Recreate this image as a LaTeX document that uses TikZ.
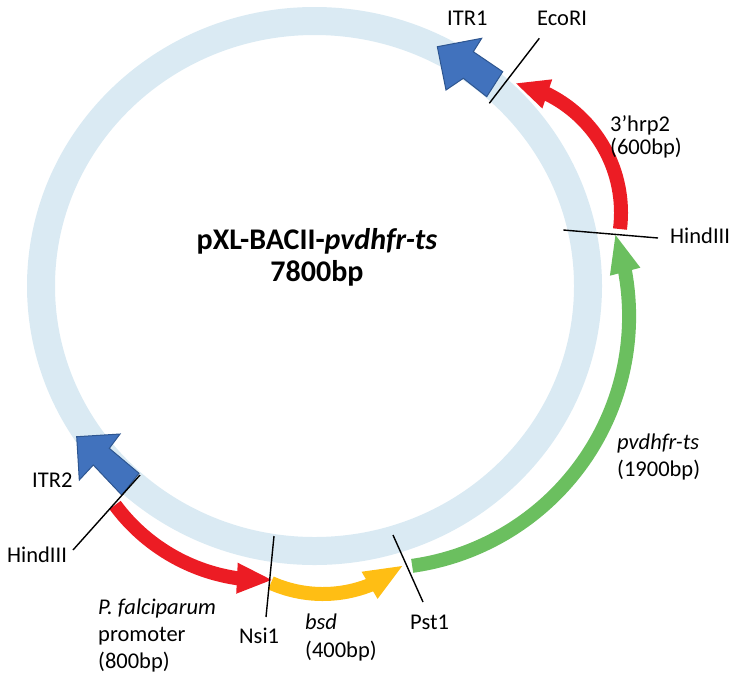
\documentclass[tikz,border=0pt]{standalone}
\usepackage{fontspec}
\setmainfont{Carlito}
\usetikzlibrary{arrows.meta,bending}
\definecolor{ringblue}{HTML}{DAEAF3}
\definecolor{itrblue}{HTML}{4172BD}
\definecolor{itredge}{HTML}{2E5690}
\definecolor{hrpred}{HTML}{EC1C24}
\definecolor{genegreen}{HTML}{6BBF5F}
\definecolor{bsdyellow}{HTML}{FFBE14}
\begin{document}
\begin{tikzpicture}[x=1pt,y=-1pt,
  lbl/.style={font=\fontsize{22.5}{27}\selectfont, inner sep=0pt, anchor=base west},
  titlefont/.style={font=\fontsize{30}{34}\selectfont\bfseries, inner sep=0pt, anchor=base},
  siteline/.style={line width=1.4pt, black},
  feat/.style={line width=14pt},
  headtip/.style={-{Triangle[length=#1,width=28pt]}},
  itr/.style={fill=itrblue, draw=itredge, line width=1pt, line join=miter}]
\useasboundingbox (0,0) rectangle (738,681);
% backbone ring
\draw[ringblue, line width=28pt] (314.5,286) ellipse [x radius=273.5, y radius=265];
% arc centres
\coordinate (gc) at (377.1,316.3);
\coordinate (rc) at (488.7,212.7);
\coordinate (pc) at (264.2,394.7);
\coordinate (yc) at (322.9,466.2);
% ITR arrows
\path[itr] (437.3,46.7) -- (481.7,38.3) -- (473.3,51.7) -- (502.7,71.7) -- (486.7,96.7) -- (463.3,78.3) -- (446,90) -- cycle;
\path[itr] (76.7,436.7) -- (120,434) -- (109.3,448.3) -- (139,473.3) -- (121.7,495) -- (93.3,465) -- (79.3,480) -- cycle;
% features
\draw[genegreen, feat, headtip=40pt] ([shift={(82:252)}]gc) arc[start angle=82, end angle=-19.3, radius=252];
\draw[hrpred, feat, headtip=34pt] ([shift={(7.1:132.3)}]rc) arc[start angle=7.1, end angle=-78.5, radius=132.3];
\draw[hrpred, feat, headtip=36pt] ([shift={(143.5:185.5)}]pc) arc[start angle=143.5, end angle=87.3, radius=185.5];
\draw[bsdyellow, feat, headtip=40pt] ([shift={(114:127.8)}]yc) arc[start angle=114, end angle=50.6, radius=127.8];
% restriction sites
\coordinate (eco1) at (539.3,38.3);  \coordinate (eco2) at (489.3,103.3);
\coordinate (hr1) at (563.3,230);    \coordinate (hr2) at (658,238);
\coordinate (hl1) at (140,475);      \coordinate (hl2) at (73,550);
\coordinate (ns1) at (274,536);      \coordinate (ns2) at (266,617);
\coordinate (ps1) at (393,535);      \coordinate (ps2) at (423,602);
\draw[siteline] (eco1) -- (eco2);
\draw[siteline] (hr1) -- (hr2);
\draw[siteline] (hl1) -- (hl2);
\draw[siteline] (ns1) -- (ns2);
\draw[siteline] (ps1) -- (ps2);
% title
\node[titlefont] (t1) at (317,249) {pXL-BACII-\textit{pvdhfr-ts}};
\node[titlefont] (t2) at (317,281) {7800bp};
% labels
\node[lbl] (itr1) at (447,25) {ITR1};
\node[lbl] (eco) at (537,25) {EcoRI};
\node[lbl] (hrp) at (610,131) {3’hrp2};
\node[lbl] (hrpbp) at (610,154) {(600bp)};
\node[lbl] (hindr) at (670,243) {HindIII};
\node[lbl] (pv) at (617,449) {\textit{pvdhfr-ts}};
\node[lbl] (pvbp) at (617,476) {(1900bp)};
\node[lbl] (pst) at (410,629) {Pst1};
\node[lbl] (bsd) at (305,629) {\textit{bsd}};
\node[lbl] (bsdbp) at (305,657) {(400bp)};
\node[lbl] (nsi) at (239,643) {Nsi1};
\node[lbl] (pf) at (98,614) {\textit{P. falciparum}};
\node[lbl] (prom) at (98,641) {promoter};
\node[lbl] (prombp) at (98,668) {(800bp)};
\node[lbl] (hindl) at (7,562) {HindIII};
\node[lbl] (itr2) at (32,487) {ITR2};
\end{tikzpicture}
\end{document}
